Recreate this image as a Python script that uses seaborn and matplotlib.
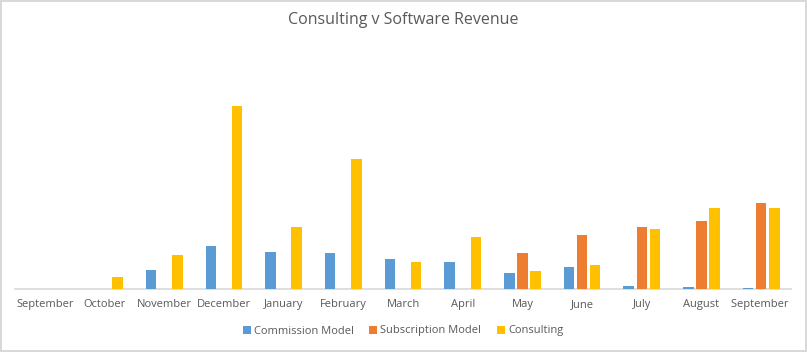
import numpy as np
import pandas as pd
import seaborn as sns
import matplotlib.pyplot as plt

months = ['September', 'October', 'November', 'December', 'January', 'February',
          'March', 'April', 'May', 'June', 'July', 'August', 'September ']
commission = [0, 0, 19, 43, 37, 36, 30, 27, 16, 22, 3, 2, 1.3]
subscription = [0, 0, 0, 0, 0, 0, 0, 0, 36, 54, 62, 68, 86]
consulting = [0, 12, 34, 183, 62, 130, 27, 52, 18, 24, 60, 81, 81]

series = ['Commission Model', 'Subscription Model', 'Consulting']
colors = ['#5B9BD5', '#ED7D31', '#FFC000']

Df = pd.DataFrame({'Month': months * 3,
                   'Series': np.repeat(series, len(months)),
                   'Value': commission + subscription + consulting})

sns.set_style('white')
plt.rcParams['font.family'] = ['Open Sans', 'DejaVu Sans']

fig = plt.figure(figsize=(8.07, 3.52), dpi=100)
fig.patch.set_edgecolor('#D9D9D9')
fig.patch.set_linewidth(1.5)
ax = fig.add_axes([15 / 807, 63 / 352, 776 / 807, 239 / 352])

sns.barplot(data=Df, x='Month', y='Value', hue='Series', palette=colors,
            width=0.66, gap=0.2, ax=ax, saturation=1, linewidth=0, zorder=3)

ax.set_ylim(0, 239)
ax.set_xlim(-0.5, len(months) - 0.5)
ax.set_xlabel('')
ax.set_ylabel('')
ax.set_yticks([])
ax.tick_params(axis='x', length=0, labelsize=8, colors='#595959', pad=7)
for s in ['top', 'right', 'left']:
    ax.spines[s].set_visible(False)
ax.spines['bottom'].set_color('#D9D9D9')
ax.spines['bottom'].set_linewidth(1.2)
ax.spines['bottom'].set_zorder(0)

fig.text(0.5, 1 - 20 / 352, 'Consulting v Software Revenue', ha='center', va='center',
         fontsize=11.5, color='#595959')

ax.legend(loc='center', bbox_to_anchor=(0.5, (352 - 331 - 63) / 239), ncol=3,
          frameon=False, fontsize=8, labelcolor='#595959', handlelength=0.7,
          handleheight=0.7, handletextpad=0.3, columnspacing=1.4)

fig.savefig('out.png', dpi=100)
